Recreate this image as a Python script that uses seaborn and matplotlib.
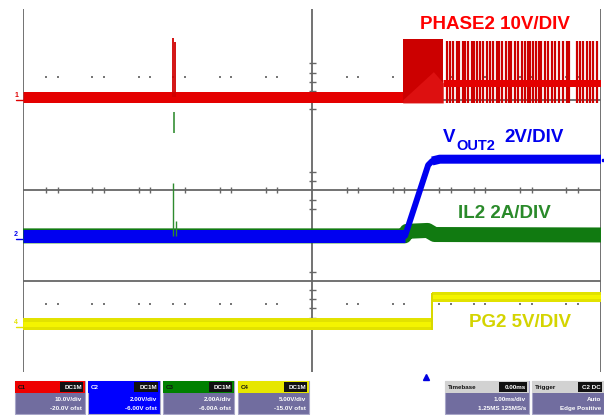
import matplotlib
matplotlib.use("Agg")
import matplotlib.pyplot as plt
import seaborn as sns
import pandas as pd
from matplotlib.patches import Rectangle, Polygon

sns.set_theme(style="white")
plt.rcParams['font.family'] = ['Liberation Sans', 'DejaVu Sans']

# ---------------- data (time in divisions 0..10, level in divisions 0..8) -------------
# PHASE2 (switch node)
phase_base_t = [0.0, 6.57]
phase_base_v = [6.06, 6.06]
phase_spike_t = [2.59, 2.63]
phase_spike_top = [7.36, 7.28]
phase_block_t = [6.57, 7.27]
phase_block_lo, phase_block_hi = 5.93, 7.33
phase_ramp_t = [6.57, 7.10, 7.27]
phase_ramp_v = [6.00, 6.62, 6.37]
phase_mid_t = [7.27, 10.0]
phase_mid_v = [6.37, 6.37]
phase_pulses = [7.33, 7.39, 7.44, 7.50, 7.55, 7.61, 7.65, 7.70, 7.76, 7.80, 7.86, 7.91,
                7.96, 8.03, 8.08, 8.14, 8.20, 8.24, 8.28, 8.36, 8.40, 8.45, 8.51, 8.57,
                8.63, 8.69, 8.73, 8.78, 8.83, 8.88, 8.93, 8.97, 9.03, 9.08, 9.15, 9.20,
                9.28, 9.35, 9.41, 9.45, 9.58, 9.64, 9.69, 9.75, 9.81, 9.86, 9.93]
pulse_lo, pulse_hi = 5.93, 7.30

# IL2 inductor current
il2_t = [0.0, 6.60, 6.64, 7.00, 7.12, 10.0]
il2_v = [3.00, 3.00, 3.10, 3.12, 3.03, 3.02]
il2_spike_t = [2.60, 2.64]
il2_spike_top = [4.16, 3.33]
il2_seg_t = 2.61
il2_seg_lo, il2_seg_hi = 5.26, 5.73

# VOUT2
vout_t = [0.0, 6.61, 7.01, 7.08, 7.21, 10.0]
vout_v = [3.00, 3.00, 4.56, 4.65, 4.69, 4.69]

# PG2
pg_t = [0.0, 7.08, 7.08, 10.0]
pg_v = [1.06, 1.06, 1.65, 1.65]
pg_seg = ["low", "low", "high", "high"]

# graticule
hline_levels = [2, 4, 6]
vline_pos = [0, 5, 10]
center_ticks_x = [0.4, 0.6, 1.2, 1.4, 2.0, 2.2, 2.8, 3.4, 3.6, 4.2, 4.4,
                  5.6, 5.8, 6.4, 6.6, 7.2, 7.4, 7.8, 8.0, 8.6, 8.8, 9.4, 9.6]
center_ticks_y = [1.2, 1.4, 1.6, 1.8, 2.2, 3.6, 3.8, 4.2, 4.4, 5.8, 6.2, 6.4, 6.6, 6.8]
dot_rows = [6.5, 1.5]
dot_x = [0.4, 0.6, 1.2, 1.4, 2.0, 2.2, 2.6, 2.8, 3.4, 3.6, 4.2, 4.4,
         5.6, 5.8, 6.4, 6.6, 7.2, 7.4, 7.8, 8.0, 8.6, 8.8, 9.4, 9.6]

# ---------------- figure ----------------
W, H = 604, 415
fig = plt.figure(figsize=(W / 100, H / 100), dpi=100)
fig.patch.set_facecolor("white")
L, R, T, B = 23, 601, 9, 372
ax = fig.add_axes([L / W, 1 - B / H, (R - L) / W, (B - T) / H])
ax.set_xlim(0, 10)
ax.set_ylim(0, 8)
ax.set_axis_off()

PX = 0.72  # points per pixel
grid_c = "#666666"
for y in hline_levels:
    ax.axhline(y, color=grid_c, lw=1.8 * PX, zorder=1)
for x in vline_pos:
    ax.axvline(x, color=grid_c, lw=1.8 * PX, zorder=1)
ax.plot(center_ticks_x, [4] * len(center_ticks_x), ls="none", marker="|", ms=6 * PX,
        mew=1.0, color=grid_c, zorder=1)
ax.plot([5] * len(center_ticks_y), center_ticks_y, ls="none", marker="_", ms=7 * PX,
        mew=1.0, color=grid_c, zorder=1)
for ry in dot_rows:
    ax.plot(dot_x, [ry] * len(dot_x), ls="none", marker="s", ms=1.6, mew=0,
            color="#777777", zorder=1)

# PG2 (yellow)
pg_df = pd.DataFrame({"t": pg_t, "v": pg_v, "seg": pg_seg})
low = pg_df[pg_df.seg == "low"]
high = pg_df[pg_df.seg == "high"]
sns.lineplot(data=low, x="t", y="v", ax=ax, color="#e2e200", lw=12 * PX,
             estimator=None, sort=False, zorder=3, solid_capstyle="butt")
sns.lineplot(data=high, x="t", y="v", ax=ax, color="#e2e200", lw=10 * PX,
             estimator=None, sort=False, zorder=3, solid_capstyle="butt")
sns.lineplot(data=low, x="t", y="v", ax=ax, color="#f4f400", lw=5 * PX,
             estimator=None, sort=False, zorder=3, solid_capstyle="butt")
sns.lineplot(data=high, x="t", y="v", ax=ax, color="#f4f400", lw=4 * PX,
             estimator=None, sort=False, zorder=3, solid_capstyle="butt")
ax.vlines(pg_t[1], pg_v[1] - 0.13, pg_v[2] + 0.1, color="#d8d800", lw=2 * PX, zorder=3)

# IL2 (green)
sns.lineplot(x=il2_t, y=il2_v, ax=ax, color="#117a11", lw=15 * PX, estimator=None,
             sort=False, zorder=4, solid_capstyle="butt")
ax.vlines(il2_spike_t, [3.0, 3.0], il2_spike_top, color="#2e8b2e", lw=1.4 * PX, zorder=6)
ax.vlines(il2_seg_t, il2_seg_lo, il2_seg_hi, color="#2e8b2e", lw=1.6 * PX, zorder=4)

# VOUT2 (blue): baseline, ramp, settled level
blue = "#0000f0"
sns.lineplot(x=vout_t[:2], y=vout_v[:2], ax=ax, color=blue, lw=13 * PX, estimator=None,
             sort=False, zorder=5, solid_capstyle="butt")
sns.lineplot(x=vout_t[1:5], y=vout_v[1:5], ax=ax, color=blue, lw=6 * PX, estimator=None,
             sort=False, zorder=5, solid_capstyle="round")
sns.lineplot(x=vout_t[3:], y=vout_v[3:], ax=ax, color=blue, lw=9 * PX, estimator=None,
             sort=False, zorder=5, solid_capstyle="butt")

# PHASE2 (red)
sns.lineplot(x=phase_base_t, y=phase_base_v, ax=ax, color="#e40000", lw=11 * PX,
             estimator=None, sort=False, zorder=5, solid_capstyle="butt")
ax.vlines(phase_spike_t, [6.06, 6.06], phase_spike_top, color="#d00000", lw=1.8 * PX, zorder=6)
ax.fill_between(phase_block_t, phase_block_lo, phase_block_hi, color="#cc0000", lw=0, zorder=5)
ax.fill_between(phase_ramp_t, [5.93, 5.93, 5.93], phase_ramp_v, color="#dd1010", lw=0,
                zorder=5)
ax.vlines(phase_pulses, pulse_lo, pulse_hi, color="#cc0000", lw=2.2 * PX, zorder=5)
sns.lineplot(x=phase_mid_t, y=phase_mid_v, ax=ax, color="#e40000", lw=7 * PX,
             estimator=None, sort=False, zorder=6, solid_capstyle="butt")

# right-edge marker and trigger marker
ax.plot([10.03], [4.67], marker="s", ms=2, color=blue, clip_on=False, zorder=7)
ax.plot([6.97], [-0.11], marker="^", ms=5, color="#0000e0", clip_on=False, zorder=7)

# channel ground markers
for lvl, col, lab in [(6.06, "#e00000", "1"), (3.0, "#0000f0", "2"), (1.06, "#e4e400", "4")]:
    ax.text(-0.12, lvl + 0.04, lab, color=col, fontsize=5, fontweight="bold",
            ha="center", va="center", clip_on=False)
    ax.plot([-0.12, 0], [lvl - 0.06, lvl - 0.06], color=col, lw=1, clip_on=False)

# trace labels
fs = 13.5
ax.text(6.87, 7.65, "PHASE2 10V/DIV", color="#ff0000", fontsize=fs, fontweight="bold",
        ha="left", va="center")
ax.text(7.27, 5.17, "V", color="#0000ee", fontsize=fs, fontweight="bold", ha="left", va="center")
ax.text(7.50, 4.99, "OUT2", color="#0000ee", fontsize=10.5, fontweight="bold", ha="left",
        va="center")
ax.text(8.33, 5.17, "2V/DIV", color="#0000ee", fontsize=fs, fontweight="bold", ha="left",
        va="center")
ax.text(7.52, 3.50, "IL2 2A/DIV", color="#2a8a2a", fontsize=fs, fontweight="bold",
        ha="left", va="center")
ax.text(7.72, 1.10, "PG2 5V/DIV", color="#d4d400", fontsize=fs, fontweight="bold",
        ha="left", va="center")

# bottom info boxes (in pixel coordinates of the figure)
def fx(x):
    return x / W


def fy(y):
    return 1 - y / H


body_c = "#716d9f"
boxes = [
    (15, 85, "#ee0000", "C1", "DC1M", ["10.0V/div", "-20.0V ofst"]),
    (88, 160, "#0000ff", "C2", "DC1M", ["2.00V/div", "-6.00V ofst"]),
    (163, 234, "#008000", "C3", "DC1M", ["2.00A/div", "-6.00A ofst"]),
    (238, 309, "#e6e600", "C4", "DC1M", ["5.00V/div", "-15.0V ofst"]),
    (445, 529, "#d2d2d2", "Timebase", "0.00ms", ["1.00ms/div", "1.25MS 125MS/s"]),
    (532, 604, "#d2d2d2", "Trigger", "C2 DC", ["Auto", "Edge Positive"]),
]
for x0, x1, hc, htxt, tag, lines in boxes:
    body = Rectangle((fx(x0), fy(414)), fx(x1) - fx(x0), fy(381) - fy(414),
                     transform=fig.transFigure, facecolor=hc if hc == "#0000ff" else body_c,
                     edgecolor="#a8a6c8", lw=0.8)
    fig.patches.append(body)
    head = Rectangle((fx(x0), fy(393)), fx(x1) - fx(x0), fy(381) - fy(393),
                     transform=fig.transFigure, facecolor=hc, edgecolor="none")
    fig.patches.append(head)
    tagw = 0.55 * (x1 - x0)
    fig.patches.append(Rectangle((fx(x1 - 2 - tagw * 0.6), fy(392)), fx(tagw * 0.6),
                                 fy(382) - fy(392), transform=fig.transFigure,
                                 facecolor="#111111", edgecolor="none"))
    fig.text(fx(x0 + 3), fy(387), htxt, fontsize=4.5, fontweight="bold", va="center",
             ha="left", color="#111111" if hc != "#0000ff" else "white")
    fig.text(fx(x1 - 3), fy(387), tag, fontsize=4.5, fontweight="bold", va="center",
             ha="right", color="white")
    fig.text(fx(x1 - 3), fy(399), lines[0], fontsize=4.5, fontweight="bold", va="center",
             ha="right", color="white")
    fig.text(fx(x1 - 3), fy(408), lines[1], fontsize=4.5, fontweight="bold", va="center",
             ha="right", color="white")

fig.savefig("out.png", dpi=100)
